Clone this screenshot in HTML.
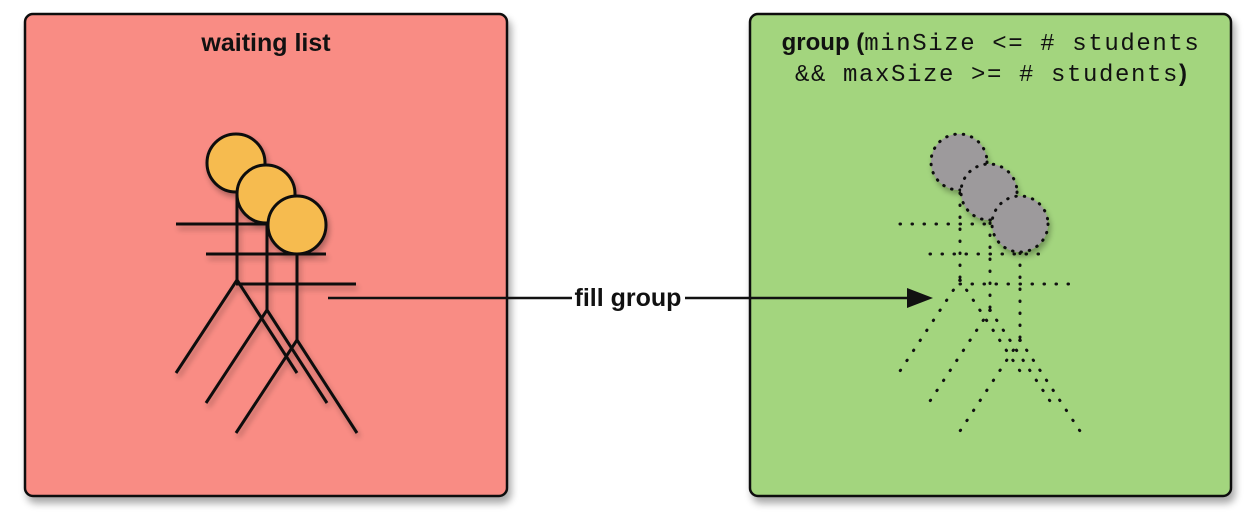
<!DOCTYPE html>
<html><head><meta charset="utf-8"><style>
html,body{margin:0;padding:0;background:#fff;width:1260px;height:522px;overflow:hidden}
svg{display:block}
</style></head><body>
<svg width="1260" height="522" viewBox="0 0 1260 522" xmlns="http://www.w3.org/2000/svg">
<defs>
<filter id="sh" x="-10%" y="-10%" width="130%" height="130%"><feGaussianBlur in="SourceAlpha" stdDeviation="4"/><feOffset dx="3" dy="6"/><feComponentTransfer><feFuncA type="linear" slope="0.35"/></feComponentTransfer><feMerge><feMergeNode/><feMergeNode in="SourceGraphic"/></feMerge></filter>
<filter id="sh2" x="-30%" y="-30%" width="160%" height="160%"><feGaussianBlur in="SourceAlpha" stdDeviation="3"/><feOffset dx="2" dy="4"/><feComponentTransfer><feFuncA type="linear" slope="0.3"/></feComponentTransfer><feMerge><feMergeNode/><feMergeNode in="SourceGraphic"/></feMerge></filter>
</defs>
<rect x="25" y="14" width="482" height="482" rx="8" fill="#f98c84" stroke="#111" stroke-width="2.5" filter="url(#sh)"/>
<rect x="750" y="14" width="481" height="482" rx="8" fill="#a3d57e" stroke="#111" stroke-width="2.5" filter="url(#sh)"/>
<text x="266" y="51" text-anchor="middle" font-family="Liberation Sans, sans-serif" font-weight="bold" font-size="25" fill="#111">waiting list</text>
<text x="991" y="50" text-anchor="middle" font-family="Liberation Sans, sans-serif" font-size="24" fill="#111"><tspan font-weight="bold">group (</tspan><tspan font-family="Liberation Mono, monospace" font-size="24" letter-spacing="1.6">minSize &lt;= # students</tspan></text>
<text x="991" y="81" text-anchor="middle" font-family="Liberation Sans, sans-serif" font-size="24" fill="#111"><tspan font-family="Liberation Mono, monospace" font-size="24" letter-spacing="1.6">&amp;&amp; maxSize &gt;= # students</tspan><tspan font-weight="bold">)</tspan></text>

<g stroke="#111" stroke-width="3" fill="none" stroke-linecap="butt" filter="url(#sh2)">
<g><line x1="176" y1="224" x2="296" y2="224"/><line x1="237" y1="193" x2="237" y2="280"/><line x1="237" y1="280" x2="176" y2="373"/><line x1="237" y1="280" x2="297" y2="373"/></g>
<g transform="translate(30,30)"><line x1="176" y1="224" x2="296" y2="224"/><line x1="237" y1="193" x2="237" y2="280"/><line x1="237" y1="280" x2="176" y2="373"/><line x1="237" y1="280" x2="297" y2="373"/></g>
<g transform="translate(60,60)"><line x1="176" y1="224" x2="296" y2="224"/><line x1="237" y1="193" x2="237" y2="280"/><line x1="237" y1="280" x2="176" y2="373"/><line x1="237" y1="280" x2="297" y2="373"/></g>
<circle cx="236" cy="163" r="29" fill="#f6bb4f"/>
<circle cx="266" cy="194" r="29" fill="#f6bb4f"/>
<circle cx="297" cy="225" r="29" fill="#f6bb4f"/>
</g>

<g stroke="#111" stroke-width="3" fill="none" stroke-dasharray="0.5 11.5" stroke-linecap="round">
<g><line x1="900" y1="224" x2="1020" y2="224"/><line x1="960" y1="193" x2="960" y2="280"/><line x1="960" y1="280" x2="900" y2="371"/><line x1="960" y1="280" x2="1020" y2="371"/></g>
<g transform="translate(30,30)"><line x1="900" y1="224" x2="1020" y2="224"/><line x1="960" y1="193" x2="960" y2="280"/><line x1="960" y1="280" x2="900" y2="371"/><line x1="960" y1="280" x2="1020" y2="371"/></g>
<g transform="translate(60,60)"><line x1="900" y1="224" x2="1020" y2="224"/><line x1="960" y1="193" x2="960" y2="280"/><line x1="960" y1="280" x2="900" y2="371"/><line x1="960" y1="280" x2="1020" y2="371"/></g>
</g>
<g stroke="#111" stroke-width="3" fill="#9d9a9c" stroke-dasharray="0.5 8" stroke-linecap="round" filter="url(#sh2)">
<circle cx="959" cy="162" r="28"/>
<circle cx="989" cy="192" r="28"/>
<circle cx="1020" cy="224" r="28"/>
</g>

<line x1="328" y1="298" x2="915" y2="298" stroke="#111" stroke-width="2.5"/>
<polygon points="933,298 907,288 907,308" fill="#111"/>
<rect x="572" y="284" width="113" height="28" fill="#fff"/>
<text x="628" y="306" text-anchor="middle" font-family="Liberation Sans, sans-serif" font-weight="bold" font-size="25" fill="#111">fill group</text>
</svg>
</body></html>
